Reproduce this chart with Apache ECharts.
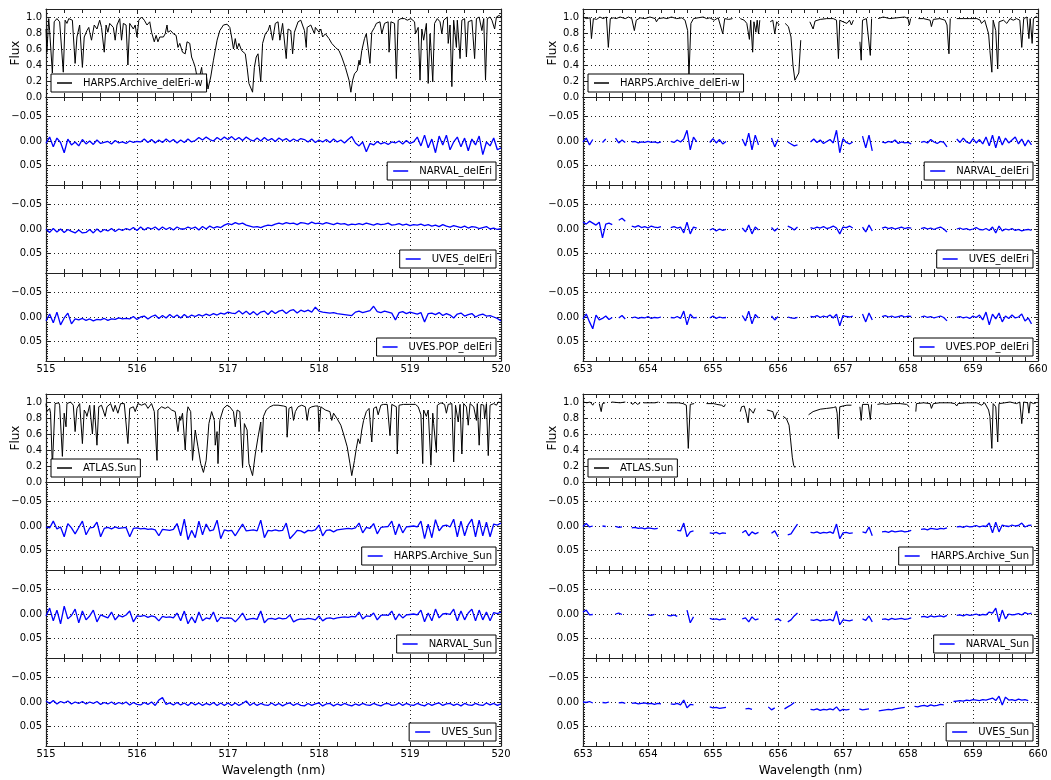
<!DOCTYPE html>
<html><head><meta charset="utf-8">
<script src="https://cdn.jsdelivr.net/npm/echarts@6/dist/echarts.min.js"></script>
<style>html,body{margin:0;padding:0;background:#fff}#c{width:1051px;height:780px}</style>
</head><body><div id="c"></div>
<script>
// ---------------- DATA ----------------
const xTicksLeft = [515, 516, 517, 518, 519, 520];
const xTicksRight = [653, 654, 655, 656, 657, 658, 659, 660];
const fluxTicks = [0.0, 0.2, 0.4, 0.6, 0.8, 1.0];
const residTicks = [-0.05, 0.00, 0.05];
const fluxRange = [0, 1.1];
const residRange = [-0.09, 0.09];

// residual sampling grids (wavelength, nm)
const wlLeftStart = 515, wlLeftStep = 0.04;
const wlRightStart = 653, wlRightStep = 0.05;

// flux spectra [wavelength nm, normalised flux]; null = no data
const fluxHarpsDelEriL = [[515.00,0.85],[515.01,0.56],[515.03,0.98],[515.04,0.83],[515.07,0.3],[515.09,0.94],[515.12,0.98],[515.15,0.94],[515.16,0.96],[515.19,0.31],[515.21,0.96],[515.23,0.92],[515.25,0.98],[515.27,1.0],[515.29,0.96],[515.32,0.42],[515.34,0.75],[515.37,0.9],[515.40,0.37],[515.42,0.75],[515.45,0.83],[515.47,0.87],[515.48,0.81],[515.50,0.71],[515.53,0.9],[515.56,0.85],[515.59,0.96],[515.61,0.87],[515.64,0.56],[515.66,0.9],[515.68,0.81],[515.70,0.92],[515.74,0.87],[515.76,0.71],[515.78,0.9],[515.81,0.98],[515.83,0.71],[515.85,0.92],[515.88,0.9],[515.90,0.4],[515.92,0.92],[515.96,0.85],[515.98,0.9],[516.00,0.75],[516.02,0.96],[516.05,1.0],[516.08,0.96],[516.11,0.9],[516.14,0.94],[516.16,0.81],[516.19,0.69],[516.21,0.77],[516.23,0.69],[516.25,0.75],[516.29,0.75],[516.31,0.79],[516.33,0.9],[516.34,0.81],[516.37,0.83],[516.40,0.79],[516.43,0.77],[516.45,0.62],[516.47,0.67],[516.50,0.56],[516.53,0.54],[516.55,0.69],[516.58,0.67],[516.60,0.5],[516.62,0.44],[516.64,0.37],[516.66,0.25],[516.68,0.21],[516.71,0.37],[516.73,0.15],[516.76,0.29],[516.78,0.1],[516.81,0.25],[516.84,0.46],[516.88,0.71],[516.91,0.83],[516.95,0.9],[516.99,0.91],[517.02,0.87],[517.04,0.75],[517.06,0.6],[517.08,0.73],[517.10,0.6],[517.12,0.67],[517.15,0.58],[517.19,0.54],[517.21,0.37],[517.23,0.17],[517.27,0.06],[517.29,0.37],[517.31,0.5],[517.33,0.54],[517.36,0.19],[517.38,0.67],[517.41,0.79],[517.44,0.83],[517.46,0.9],[517.49,0.71],[517.52,0.92],[517.55,0.94],[517.57,0.71],[517.60,0.92],[517.64,0.48],[517.66,0.85],[517.69,0.83],[517.71,0.54],[517.73,0.81],[517.77,0.94],[517.80,0.96],[517.84,0.83],[517.86,0.62],[517.87,0.87],[517.91,0.9],[517.95,0.79],[517.96,0.87],[518.00,0.81],[518.02,0.85],[518.04,0.75],[518.07,0.79],[518.11,0.73],[518.14,0.67],[518.18,0.62],[518.22,0.58],[518.25,0.5],[518.29,0.37],[518.33,0.21],[518.35,0.06],[518.37,0.21],[518.39,0.29],[518.42,0.33],[518.44,0.46],[518.45,0.4],[518.47,0.58],[518.50,0.73],[518.52,0.79],[518.56,0.42],[518.58,0.81],[518.61,0.87],[518.63,0.92],[518.67,0.94],[518.69,0.79],[518.72,0.92],[518.76,0.94],[518.77,0.56],[518.79,0.94],[518.83,0.92],[518.85,0.23],[518.87,0.96],[518.90,0.98],[518.94,0.98],[518.97,0.96],[519.01,0.98],[519.05,0.94],[519.06,0.79],[519.09,0.87],[519.11,0.21],[519.13,0.85],[519.15,0.71],[519.18,0.92],[519.20,0.17],[519.22,0.79],[519.23,0.62],[519.25,0.19],[519.27,0.92],[519.30,0.98],[519.33,0.94],[519.35,0.79],[519.37,0.96],[519.41,1.0],[519.42,0.67],[519.44,0.9],[519.46,0.13],[519.48,0.96],[519.51,0.62],[519.52,0.96],[519.55,0.48],[519.57,0.96],[519.60,0.98],[519.62,0.5],[519.64,0.94],[519.68,0.96],[519.71,0.48],[519.73,0.98],[519.76,1.0],[519.79,0.83],[519.81,0.98],[519.83,0.21],[519.85,0.98],[519.88,1.0],[519.90,0.96],[519.93,0.85],[519.95,1.0],[519.98,1.02],[520.00,1.0]];

const fluxAtlasSunL = [[515.00,0.98],[515.01,0.88],[515.04,0.92],[515.05,0.86],[515.07,0.2],[515.10,0.98],[515.14,0.99],[515.15,0.96],[515.18,0.32],[515.20,0.86],[515.22,0.69],[515.23,0.98],[515.27,1.0],[515.30,0.96],[515.32,0.63],[515.34,0.92],[515.37,0.98],[515.40,0.48],[515.42,0.9],[515.44,0.86],[515.45,0.82],[515.48,0.96],[515.51,0.6],[515.53,0.96],[515.56,0.46],[515.58,0.94],[515.61,0.96],[515.65,0.82],[515.67,0.94],[515.71,0.98],[515.74,0.88],[515.76,0.96],[515.79,0.86],[515.82,0.98],[515.86,0.98],[515.90,0.48],[515.92,0.92],[515.96,0.94],[515.98,0.88],[516.01,0.98],[516.05,0.96],[516.09,0.98],[516.12,0.92],[516.16,0.98],[516.19,0.88],[516.22,0.27],[516.23,0.9],[516.27,0.94],[516.31,0.92],[516.34,0.94],[516.38,0.9],[516.42,0.88],[516.45,0.63],[516.47,0.82],[516.48,0.77],[516.50,0.86],[516.53,0.4],[516.55,0.86],[516.56,0.94],[516.59,0.88],[516.61,0.27],[516.64,0.65],[516.67,0.44],[516.70,0.23],[516.73,0.12],[516.76,0.27],[516.79,0.73],[516.82,0.88],[516.85,0.77],[516.86,0.46],[516.88,0.63],[516.89,0.23],[516.91,0.77],[516.95,0.92],[516.99,0.96],[517.02,0.94],[517.06,0.88],[517.08,0.69],[517.10,0.9],[517.13,0.88],[517.16,0.18],[517.18,0.73],[517.21,0.65],[517.23,0.23],[517.27,0.08],[517.30,0.35],[517.33,0.56],[517.36,0.75],[517.37,0.37],[517.39,0.82],[517.42,0.9],[517.46,0.94],[517.50,0.96],[517.55,0.96],[517.61,0.95],[517.64,0.94],[517.65,0.56],[517.67,0.92],[517.70,0.94],[517.72,0.77],[517.74,0.88],[517.77,0.94],[517.81,0.96],[517.85,0.94],[517.87,0.77],[517.89,0.92],[517.92,0.94],[517.96,0.95],[517.99,0.95],[518.00,0.63],[518.02,0.94],[518.07,0.9],[518.12,0.88],[518.14,0.77],[518.16,0.86],[518.20,0.79],[518.24,0.71],[518.27,0.6],[518.31,0.44],[518.34,0.23],[518.36,0.08],[518.39,0.27],[518.41,0.42],[518.43,0.54],[518.45,0.48],[518.47,0.65],[518.49,0.77],[518.52,0.88],[518.55,0.92],[518.58,0.5],[518.60,0.92],[518.63,0.94],[518.65,0.84],[518.68,0.96],[518.71,0.97],[518.75,0.97],[518.78,0.58],[518.80,0.97],[518.85,0.94],[518.86,0.35],[518.88,0.96],[518.93,0.97],[518.99,0.97],[519.06,0.97],[519.09,0.94],[519.12,0.84],[519.14,0.23],[519.15,0.9],[519.18,0.82],[519.20,0.9],[519.23,0.21],[519.25,0.86],[519.26,0.73],[519.29,0.37],[519.30,0.96],[519.34,0.99],[519.38,0.97],[519.40,0.86],[519.42,0.97],[519.46,0.98],[519.48,0.25],[519.50,0.96],[519.53,0.75],[519.55,0.97],[519.57,0.35],[519.59,0.98],[519.62,0.94],[519.64,0.71],[519.66,0.98],[519.70,0.94],[519.73,0.77],[519.74,0.98],[519.76,0.46],[519.78,0.97],[519.81,0.96],[519.82,0.79],[519.84,0.98],[519.86,0.33],[519.88,0.96],[519.92,0.98],[519.95,0.96],[519.97,1.0],[520.00,0.99]];

const fluxHarpsDelEriR = [[653.00,1.0],[653.05,0.98],[653.08,0.96],[653.11,0.99],[653.13,0.73],[653.16,0.98],[653.21,0.97],[653.26,1.0],[653.31,0.98],[653.36,1.0],[653.39,0.62],[653.42,0.98],[653.47,0.99],[653.51,0.98],[653.57,1.0],[653.65,0.98],[653.70,1.0],[653.75,0.98],[653.79,0.83],[653.82,0.96],[653.88,0.99],[653.95,0.98],[654.03,1.0],[654.11,0.98],[654.13,0.94],[654.16,0.98],[654.24,0.99],[654.29,0.98],[654.36,1.0],[654.44,0.98],[654.52,0.99],[654.57,0.96],[654.61,0.83],[654.63,0.25],[654.66,0.92],[654.70,0.98],[654.77,0.99],[654.85,1.0],[654.90,0.98],[654.95,0.99],[655.02,0.96],[655.08,0.99],[655.15,0.79],[655.18,0.98],[655.24,0.97],[655.30,0.98],[655.35,null],[655.42,0.98],[655.48,0.96],[655.52,0.92],[655.56,0.72],[655.58,0.96],[655.61,0.56],[655.63,0.94],[655.66,0.81],[655.68,0.96],[655.70,0.79],[655.72,0.96],[655.74,null],[655.88,0.94],[655.92,0.96],[655.95,0.79],[655.98,0.94],[656.02,0.9],[656.05,null],[656.11,0.92],[656.16,0.88],[656.20,0.75],[656.23,0.4],[656.26,0.21],[656.29,0.19],[656.32,0.3],[656.35,0.71],[656.37,null],[656.49,0.94],[656.54,0.85],[656.57,0.95],[656.65,0.97],[656.75,0.98],[656.85,0.98],[656.90,0.96],[656.93,0.48],[656.95,0.96],[657.00,0.94],[657.06,0.92],[657.10,0.96],[657.13,0.9],[657.16,0.96],[657.19,null],[657.26,0.69],[657.28,0.46],[657.30,0.96],[657.36,0.98],[657.42,0.52],[657.44,0.98],[657.48,null],[657.54,0.98],[657.62,1.0],[657.72,0.98],[657.83,0.99],[657.95,1.0],[658.00,0.98],[658.02,0.9],[658.04,0.98],[658.08,null],[658.16,0.98],[658.24,0.98],[658.34,0.96],[658.36,0.88],[658.39,0.97],[658.49,0.98],[658.57,0.96],[658.60,0.9],[658.63,0.54],[658.65,0.98],[658.69,null],[658.75,0.98],[658.85,0.98],[658.95,0.98],[659.06,0.98],[659.11,0.96],[659.13,0.92],[659.18,0.96],[659.24,0.79],[659.26,0.58],[659.29,0.31],[659.31,0.96],[659.35,0.83],[659.38,0.35],[659.40,0.94],[659.47,0.96],[659.52,0.92],[659.57,0.98],[659.62,0.96],[659.67,0.98],[659.72,0.96],[659.75,0.62],[659.78,0.98],[659.83,1.0],[659.86,0.73],[659.88,0.98],[659.91,0.67],[659.93,0.98],[659.98,1.01]];

const fluxAtlasSunR = [[653.00,1.0],[653.06,0.99],[653.11,1.0],[653.15,0.96],[653.17,0.99],[653.20,null],[653.25,0.98],[653.28,0.88],[653.30,0.98],[653.34,0.99],[653.38,null],[653.44,1.0],[653.57,0.99],[653.65,1.0],[653.68,null],[653.73,0.99],[653.77,0.97],[653.80,1.0],[653.84,0.97],[653.88,0.99],[653.90,null],[653.93,0.99],[654.03,0.99],[654.11,0.99],[654.16,1.0],[654.20,null],[654.29,0.99],[654.36,0.99],[654.47,0.99],[654.54,0.98],[654.59,0.96],[654.62,0.42],[654.65,0.97],[654.71,0.98],[654.74,null],[654.90,0.98],[655.01,0.98],[655.06,0.97],[655.13,0.96],[655.17,0.94],[655.19,0.97],[655.22,null],[655.42,0.88],[655.44,0.94],[655.48,0.95],[655.51,0.86],[655.54,0.74],[655.56,0.92],[655.59,0.92],[655.62,0.86],[655.65,0.92],[655.68,null],[655.83,0.9],[655.88,0.89],[655.92,0.88],[655.95,0.79],[655.98,0.86],[656.00,0.88],[656.04,null],[656.08,0.82],[656.13,0.79],[656.17,0.71],[656.19,0.56],[656.22,0.31],[656.24,0.21],[656.26,0.18],[656.28,null],[656.47,0.84],[656.54,0.88],[656.65,0.91],[656.75,0.92],[656.85,0.93],[656.89,0.94],[656.91,0.86],[656.93,0.54],[656.95,0.94],[657.00,0.95],[657.06,0.96],[657.13,0.96],[657.17,null],[657.26,0.94],[657.28,0.77],[657.30,0.97],[657.39,0.97],[657.42,0.78],[657.44,0.97],[657.48,null],[657.53,0.97],[657.60,0.98],[657.67,0.97],[657.77,0.98],[657.88,0.98],[657.98,0.97],[658.00,0.96],[658.02,0.94],[658.06,null],[658.12,0.88],[658.13,0.98],[658.24,0.99],[658.34,0.98],[658.36,0.92],[658.39,0.98],[658.49,0.99],[658.60,0.99],[658.65,0.99],[658.72,0.98],[658.75,0.95],[658.77,0.98],[658.90,0.99],[659.06,0.99],[659.13,0.96],[659.18,0.99],[659.24,0.9],[659.26,0.82],[659.29,0.42],[659.31,0.98],[659.35,0.94],[659.38,0.5],[659.40,0.98],[659.49,0.99],[659.57,1.0],[659.67,0.98],[659.72,1.0],[659.75,0.73],[659.78,1.0],[659.84,0.99],[659.86,0.86],[659.88,1.0],[659.93,0.98],[659.97,0.99]];

// residual spectra, in units of 0.001 flux (positive = plotted downward), sampled on the grids above; null = no data
const narvalDelEriL = [5,-8,12,-6,3,24,-4,8, 2,10,-3,6,0,7,-2,5, 3,1,6,-1,4,2,5,0,3,1, 2,-4,3,-3,4,-2,3,-4,2,-3,4,-2,3,-4,2, -1,-7,-2,-8,-3,0,-7,-2,-8,-3,-9,-2,-7,-1,-8,-3,0, -6,0,-7,-1,-5,1,-6,-1,-5,1,-4,0,-5, -3,2,-4,3,-2,2,-3,3,-4,2,-2,4,-3, -9,4,10,2,22,5,8,1,6,3,7,2, 4,0,6,-1,5,2, -8,10,-12,14,-4,24,-10,8,-12,18,2,-8,12,-6,20,-4,8,-10,28,2,10,-6,18,14];
const uvesDelEriL = [0,7,-1,6,0,7,1,5,8,2,8, 7,1,8,0,6,1,4,-1,5,0,3,-1, 2,-3,3,-4,2,-3,0,-4,2,-4,1,-3,2,-4,0, 0,-4,-1,-4,2,-5,0,-6,-2,-5,-3, -8,-11,-9,-13,-10,-12,-8, -6,-4,-5,-3,-6,-8,-7,-10, -12,-10,-13,-11,-12,-9,-13,-12,-10,-14,-11,-12,-10,-13,-11,-9,-12,-10,-11,-8,-10,-9, -11,-9,-12,-10,-8,-11,-9,-10,-12,-8,-9,-11,-8,-10,-7,-9,-8,-10,-7,-9, -6,-8,-5,-9,-6,-4,-7,-5,-3,-6,-2,-5,-4,-1,-3,-5,0,-2,1,-1];
const uvesPopDelEriL = [8,-6,12,-10,16,2,-8,14,4, 6,3,7,4,8,5,6,3,7,4,5,2,4,3, 4,-1,5,0,-2,4,-1,-4,3,-3,2,-5,1,-4,2,-5,1,-4, -1,-5,-2,-6,-3,-7,-4,-8,-6,-10,-8, -7,-13,-6,-12,-5,-11,-4,-10,-12,-5,-13,-7,-12,-14,-7,-13,-15,-8,-14, -11,-14,-10,-20,-12,-10,-9,-8,-9,-7, -6,-5,-4,-3, -10,-12,-9,-11,-13,-22,-11,-9,-12,-10,-8, 6,-9,-11,-7,-10,-8,-6,-9,10,-7, -8,-5,-9,-3,-7,-4,2,-6,-8,-2,-5,-7,0,-4,-6,-2,-3,0,3,8];
const harpsSunL = [2,4,-10,6,2,22,-5,4,16,3, -10,18,4,3,-8,22,5,3,6,2, 5,4,3,22,5,4,6,5,7,6, 8,20,7,8,9,7,-5,20,-14,28, 9,24,-10,18,-4,10,8,-12,26,8, 10,9,20,8,-4,10,9,8,10,-12, 24,9,10,8,10,9,-6,26,18,9, 10,14,9,10,8,-2,20,9,8,12, 8,7,6,5,6,4,-6,14,3,5, -5,16,3,2,1,-10,18,-4,14,2, 1,0,2,-10,26,-4,24,-13,10,0, -2,2,-14,22,-10,20,-3,-14,22,-12, 20,-8,22,-4,-2,-6];
const narvalSunL = [4,-12,14,-8,20,-16,10,3,-10,18,-6,12,4,-8,16,2, 5,8,-4,12,3,6,2,-6,16,4,5,3,7,4,6, 14,5,7,6,8,-2,14,-6,20,6,18,-4,14,8,10,-4,16,7,9,8, 9,16,8,-2,12,10,9,11,-6,18,10,9,11,8,10,9,2,16,12,10,11,9,10,12,4, 14,9,8,10,8,7,6,7,5,6,-4,10,4,5,-2,12,3,2,3,-6,12,0,8,2,1, 0,2,-8,16,-2,14,-10,8,0,-1,1,-10,14,-6,12,-2,-10,14,-8,12,-4,14,-3,-1,-4];
const uvesSunL = [-2,3,-3,4,-1,2,-2,4,0,3,-1,4,0,3,-1,5,1,4,0,5,1,4,0,6,1,5, 6,1,5,0,7,-4,-9,5,2,6,1,6,2,7,1,6,2,7,3,6,1,7,2,7,2, 7,2,7,3,-2,7,2,7,3,6,7,2,7,3,8,4,2,7,3,7,8,3,7,4,2, 8,4,3,8,4,7,3,6,8,4,7,3,6,7,3,6,8,4,3,7,6,2,7,3,6, 7,3,6,8,3,7,4,2,7,4,3,7,4,8,3,6,7,3,6,7,2,6,3,7,4];

const narvalDelEriR = [2,-6,8,-3,null,null,3,-4,null,null,-6,4,-2,3,null,2,1,4,2,3,1,3,2,4,2,null,null,1,3,-2,2,-4,-22,18,-8,2,null,null,null,3,-5,4,-3,6,1,null,null,null,null,-4,10,-16,18,-12,8,null,null,null,-6,12,-3,null,null,2,6,10,8,null,null,null,2,-4,3,-2,5,1,-3,4,-22,24,-5,3,6,2,null,null,-10,14,-12,20,null,null,2,4,1,3,-2,5,2,4,3,6,null,null,3,1,4,-3,2,5,1,3,12,null,null,-4,3,-6,2,5,-5,4,-3,6,-8,10,-12,14,-10,8,-6,4,-2,-8,6,-4,10,-2,8,null,null];
const uvesDelEriR = [-14,-10,-16,-12,-8,-14,18,-10,-12,-9,null,-18,-22,-16,null,-6,-4,-7,-3,-5,-2,-6,-4,-3,-5,null,null,-3,-5,-2,-4,8,-14,10,-4,-2,null,null,null,2,-1,4,0,3,1,null,null,null,null,-2,6,-8,10,-4,2,null,null,null,-3,4,-2,null,null,-6,-3,2,-4,null,null,null,-3,-1,-4,-2,-5,-1,-3,-6,-2,10,-4,-3,-6,-2,null,null,-4,6,-8,4,null,null,-2,-4,-1,-3,0,-2,-4,-1,-3,-2,null,null,-1,-3,0,-2,1,-2,-4,0,6,null,null,0,-2,1,-1,2,0,-3,1,2,-1,3,-4,8,-6,4,0,2,-1,3,1,4,2,1,3,null,null];
const uvesPopDelEriR = [4,-6,10,24,-4,6,3,-2,5,1,null,2,-3,4,null,2,0,3,1,2,-1,3,1,2,0,null,null,1,2,-1,3,-12,16,-6,2,1,null,null,null,2,-2,3,0,2,1,null,null,null,null,-3,8,-12,14,-5,2,null,null,null,-2,6,-1,null,null,0,2,3,1,null,null,null,-1,0,-3,1,-2,0,-4,2,-6,18,-3,-1,0,-2,null,null,-6,10,-8,6,null,null,-1,-3,0,-2,1,-1,-3,0,-2,-1,null,null,0,-2,1,-1,2,0,-2,1,8,null,null,1,-1,2,0,3,-2,1,-4,6,-10,16,-6,4,-8,10,-2,3,-4,2,0,-6,8,2,14,null,null];
const harpsSunR = [1,-5,2,0,null,null,0,1,null,null,1,3,2,null,null,4,3,5,4,6,4,5,6,5,null,null,null,null,null,9,10,-6,22,12,10,null,null,null,null,14,15,13,16,14,15,null,null,null,null,14,9,20,12,16,13,null,null,null,15,10,22,null,null,18,16,6,-4,null,null,null,13,14,12,15,13,14,12,15,-4,26,14,13,15,14,null,null,12,14,2,20,null,null,12,11,13,10,12,11,10,12,11,9,null,null,7,6,8,5,6,7,5,6,4,null,null,2,1,3,0,2,1,-1,2,0,1,-6,14,-8,12,-2,0,1,-2,0,-1,-6,2,-1,-2,null,null];
const narvalSunR = [-4,-8,2,1,null,null,null,null,null,null,0,-2,1,null,null,null,null,null,null,null,2,3,1,null,null,null,3,4,2,5,null,null,-8,18,6,null,null,null,null,9,11,10,12,10,11,null,null,null,null,10,8,16,6,12,10,null,null,null,null,12,10,14,null,16,12,4,-2,null,null,null,12,13,11,14,12,13,11,14,-6,22,12,13,14,12,null,null,10,13,4,16,null,null,11,10,12,9,11,10,9,11,10,8,null,null,6,5,7,4,6,5,4,6,3,null,null,3,2,4,1,3,2,0,3,1,2,-4,-2,-12,16,-8,10,0,2,1,-1,2,-3,0,-2,null,null];
const uvesSunR = [0,1,-1,2,null,null,1,2,0,null,null,2,1,3,null,3,2,4,3,2,4,3,5,3,4,null,null,4,5,3,6,-4,12,5,6,null,null,null,null,10,12,11,13,12,11,null,null,null,null,null,14,13,15,null,null,null,null,10,16,12,null,null,14,10,6,1,null,null,null,null,15,16,14,17,15,16,14,16,10,18,15,16,15,null,null,14,16,15,14,null,null,18,17,16,15,16,14,13,12,11,null,null,9,10,8,7,9,6,8,7,5,6,null,null,-1,-2,-3,-2,-4,-3,-5,-4,-3,-5,-4,-6,-8,-3,-12,6,-10,-4,-5,-3,-6,-4,-5,-3,null,null,null];

// ---------------- PANELS ----------------
const panels = [
  {col:0, block:0, row:0, kind:'flux',  name:'HARPS.Archive_delEri-w', flux: fluxHarpsDelEriL},
  {col:0, block:0, row:1, kind:'resid', name:'NARVAL_delEri', vals: narvalDelEriL},
  {col:0, block:0, row:2, kind:'resid', name:'UVES_delEri', vals: uvesDelEriL},
  {col:0, block:0, row:3, kind:'resid', name:'UVES.POP_delEri', vals: uvesPopDelEriL},
  {col:1, block:0, row:0, kind:'flux',  name:'HARPS.Archive_delEri-w', flux: fluxHarpsDelEriR},
  {col:1, block:0, row:1, kind:'resid', name:'NARVAL_delEri', vals: narvalDelEriR},
  {col:1, block:0, row:2, kind:'resid', name:'UVES_delEri', vals: uvesDelEriR},
  {col:1, block:0, row:3, kind:'resid', name:'UVES.POP_delEri', vals: uvesPopDelEriR},
  {col:0, block:1, row:0, kind:'flux',  name:'ATLAS.Sun', flux: fluxAtlasSunL},
  {col:0, block:1, row:1, kind:'resid', name:'HARPS.Archive_Sun', vals: harpsSunL},
  {col:0, block:1, row:2, kind:'resid', name:'NARVAL_Sun', vals: narvalSunL},
  {col:0, block:1, row:3, kind:'resid', name:'UVES_Sun', vals: uvesSunL},
  {col:1, block:1, row:0, kind:'flux',  name:'ATLAS.Sun', flux: fluxAtlasSunR},
  {col:1, block:1, row:1, kind:'resid', name:'HARPS.Archive_Sun', vals: harpsSunR},
  {col:1, block:1, row:2, kind:'resid', name:'NARVAL_Sun', vals: narvalSunR},
  {col:1, block:1, row:3, kind:'resid', name:'UVES_Sun', vals: uvesSunR}
];

// ---------------- LAYOUT / STYLE ----------------
const W = 1051, Hh = 780;
const colLeft = [46, 583], plotW = 455;
const blockTop = [9, 394], panelH = 88;
const FONT = 'DejaVu Sans';
const frameColor = '#222';
const gridLine = {show:true, lineStyle:{type:[1,3], color:'#222', width:1}};

const grids = [], xAxes = [], yAxes = [], series = [], legends = [];

panels.forEach((p, k) => {
  const left = colLeft[p.col];
  const top = blockTop[p.block] + p.row * panelH;
  const xt = p.col === 0 ? xTicksLeft : xTicksRight;
  const xr = [xt[0], xt[xt.length - 1]];
  const isBottom = p.row === 3;
  grids.push({left: left, top: top, width: plotW, height: panelH, containLabel: false});

  const xBase = {
    gridIndex: k, type: 'value', min: xr[0], max: xr[1], interval: 1,
    axisLine: {show: true, onZero: false, lineStyle: {color: frameColor, width: 1.2}},
    axisTick: {show: true, inside: true, length: 4, lineStyle: {color: frameColor}},
    minorTick: {show: true, splitNumber: 5, length: 4, lineStyle: {color: frameColor}}
  };
  xAxes.push(Object.assign({}, xBase, {
    position: 'bottom',
    axisLabel: {show: isBottom, margin: 3, fontSize: 10, fontFamily: FONT, color: '#000'},
    splitLine: gridLine,
    name: (isBottom && p.block === 1) ? 'Wavelength (nm)' : '',
    nameLocation: 'middle', nameGap: 19,
    nameTextStyle: {fontSize: 12, fontFamily: FONT, color: '#000'}
  }));
  xAxes.push(Object.assign({}, xBase, {
    position: 'top', axisLabel: {show: false}, splitLine: {show: false}
  }));

  const isFlux = p.kind === 'flux';
  const yBase = isFlux ? {
    min: fluxRange[0], max: fluxRange[1], interval: fluxTicks[1] - fluxTicks[0], inverse: false
  } : {
    min: residRange[0], max: residRange[1], splitNumber: 3, inverse: true
  };
  const common = {
    gridIndex: k, type: 'value',
    axisLine: {show: true, onZero: false, lineStyle: {color: frameColor, width: 1.2}},
    axisTick: {show: true, inside: true, length: 4, lineStyle: {color: frameColor}},
    minorTick: {show: true, splitNumber: isFlux ? 4 : 10, length: 2, lineStyle: {color: frameColor}}
  };
  yAxes.push(Object.assign({}, common, yBase, {
    position: 'left',
    axisLabel: {
      show: true, margin: 4, fontSize: 10, fontFamily: FONT, color: '#000',
      showMinLabel: isFlux ? true : false, showMaxLabel: false,
      formatter: isFlux ? (v) => v.toFixed(1)
                        : (v) => (v < -1e-9 ? '\u2212' : '') + Math.abs(v).toFixed(2)
    },
    splitLine: gridLine,
    name: isFlux ? 'Flux' : '', nameLocation: 'middle', nameGap: 24, nameRotate: 90,
    nameTextStyle: {fontSize: 12, fontFamily: FONT, color: '#000'}
  }));
  yAxes.push(Object.assign({}, common, yBase, {
    position: 'right', axisLabel: {show: false}, splitLine: {show: false}
  }));

  let data;
  if (isFlux) {
    data = p.flux;
  } else {
    const s0 = p.col === 0 ? wlLeftStart : wlRightStart;
    const st = p.col === 0 ? wlLeftStep : wlRightStep;
    data = p.vals.map((v, i) => [+(s0 + i * st).toFixed(3), v === null ? null : v / 1000]);
  }
  const color = isFlux ? '#000000' : '#0000ff';
  series.push({
    type: 'line', name: p.name, xAxisIndex: 2 * k, yAxisIndex: 2 * k,
    data: data, symbol: 'none', showSymbol: false, connectNulls: false,
    lineStyle: {color: color, width: isFlux ? 1 : 1.3}, itemStyle: {color: color},
    silent: true, animation: false, clip: true, z: 2
  });

  const legTop = top + panelH - 5 - 18;
  const leg = {
    data: [p.name], selectedMode: false, orient: 'horizontal',
    top: legTop, icon: 'rect', itemWidth: 15, itemHeight: 1.5,
    padding: [3, 4, 3, 6], borderColor: '#000', borderWidth: 1, borderRadius: 0,
    backgroundColor: '#ffffff',
    textStyle: {fontSize: 10, fontFamily: FONT, color: '#000', lineHeight: 12, padding: [0, 0, 0, 6]},
    z: 10
  };
  if (isFlux) leg.left = left + 5; else leg.right = W - (left + plotW - 5);
  legends.push(leg);
});

const chart = echarts.init(document.getElementById('c'), null, {renderer: 'canvas', width: W, height: Hh});
chart.setOption({
  animation: false,
  backgroundColor: '#ffffff',
  textStyle: {fontFamily: FONT},
  grid: grids, xAxis: xAxes, yAxis: yAxes, series: series, legend: legends
});
</script>
</body></html>
